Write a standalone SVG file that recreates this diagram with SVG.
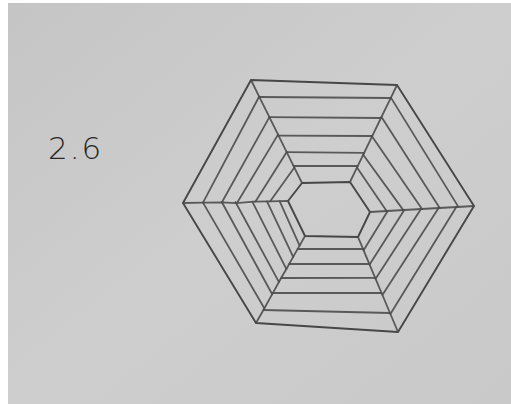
<svg xmlns="http://www.w3.org/2000/svg" width="511" height="404" viewBox="0 0 511 404">
  <defs>
    <linearGradient id="paper" x1="0" y1="0" x2="1" y2="1">
      <stop offset="0" stop-color="#c5c5c5"/>
      <stop offset="0.5" stop-color="#cecece"/>
      <stop offset="1" stop-color="#c9c9c9"/>
    </linearGradient>
    <style>
      .pen { fill: none; stroke: #4c4c4c; stroke-width: 1.8; stroke-linecap: round; stroke-linejoin: round; stroke-opacity: 0.9; }
      .edge { fill: none; stroke: #474747; stroke-width: 1.9; stroke-linecap: round; stroke-linejoin: round; }
      .label { font-family: "DejaVu Sans", "Liberation Sans", sans-serif; font-size: 31px; font-weight: 200; fill: #262626; }
    </style>
  </defs>

  <rect x="0" y="0" width="511" height="404" fill="#ffffff"/>
  <rect x="8" y="3" width="503" height="401" fill="url(#paper)"/>

  <text class="label" x="48" y="159" letter-spacing="2">2.6</text>

  <g id="hexagon">
    <polygon id="outer" class="edge" points="251,80 397,85 474,206 398,332 256,323 183,203"/>
    <polygon id="inner" class="edge" points="302,183 350,182 370,212 358,237 305,236 288,201"/>

    <g id="spokes" class="pen">
      <polyline points="251,80 259.3,96.8 269.4,117.1 278.3,135.1 286.7,152.1 294,166.8 302,183"/>
      <polyline points="397,85 390.8,97.8 381.2,117.5 372.2,136.2 363.6,154 357.4,166.7 350,182"/>
      <polyline points="474,206 457,207 439,208 421.5,209 404,210 387,211 370,212"/>
      <polyline points="398,332 390.2,313.5 382,294 375.4,278.3 369.5,264.3 363.3,249.6 358,237"/>
      <polyline points="256,323 264,309 272.5,293.6 280,280 287.8,266.5 295.4,252.9 299.6,245.6 305,236"/>
      <polyline points="183,203 203,202.6 221.9,202.3 236.5,203.2 253.9,201.6 268.6,201.4 279.6,201.2 288,201"/>
    </g>

    <g id="sector-top" class="pen">
      <line x1="259.4" y1="97" x2="390.7" y2="98"/>
      <line x1="269.4" y1="117.1" x2="381" y2="118"/>
      <line x1="278.5" y1="135.6" x2="372.3" y2="136"/>
      <line x1="286.7" y1="152.1" x2="364.1" y2="152.9"/>
      <line x1="293.6" y1="166" x2="357.8" y2="166"/>
    </g>

    <g id="sector-top-left" class="pen">
      <line x1="203" y1="202.6" x2="259.2" y2="96.5"/>
      <line x1="221.9" y1="202.3" x2="269.4" y2="117.1"/>
      <line x1="237.6" y1="202" x2="278" y2="134.6"/>
      <line x1="255.5" y1="201.6" x2="286.7" y2="152.1"/>
      <line x1="270.2" y1="201.3" x2="294.4" y2="167.6"/>
    </g>

    <g id="sector-top-right" class="pen">
      <line x1="390.9" y1="97.6" x2="458.4" y2="206.9"/>
      <line x1="381.5" y1="117" x2="439.7" y2="208"/>
      <line x1="372.1" y1="136.4" x2="422" y2="209"/>
      <line x1="363.2" y1="154.8" x2="403.3" y2="210.1"/>
      <line x1="357" y1="167.5" x2="386.6" y2="211"/>
    </g>

    <g id="sector-bottom-right" class="pen">
      <line x1="456.3" y1="207" x2="390.4" y2="314"/>
      <line x1="438.6" y1="208" x2="382.4" y2="295"/>
      <line x1="421" y1="209.1" x2="375.6" y2="278.8"/>
      <line x1="404.3" y1="210" x2="369.6" y2="264.5"/>
      <line x1="387.7" y1="211" x2="363.6" y2="250.3"/>
    </g>

    <g id="sector-bottom" class="pen">
      <line x1="263.4" y1="310" x2="390" y2="313"/>
      <line x1="272.9" y1="293" x2="381.6" y2="293"/>
      <line x1="281.3" y1="278" x2="375.2" y2="277.9"/>
      <line x1="289.2" y1="264" x2="369.4" y2="264"/>
      <line x1="297.7" y1="249" x2="363" y2="249"/>
    </g>

    <g id="sector-bottom-left" class="pen">
      <line x1="203" y1="202.6" x2="264.3" y2="308.2"/>
      <line x1="221.9" y1="202.3" x2="272.2" y2="294.3"/>
      <line x1="235.5" y1="202" x2="279" y2="282.1"/>
      <line x1="252.3" y1="201.7" x2="286.4" y2="269.1"/>
      <line x1="267" y1="201.4" x2="293.2" y2="256.9"/>
      <line x1="279.6" y1="201.2" x2="299.6" y2="245.6"/>
    </g>
  </g>
</svg>
